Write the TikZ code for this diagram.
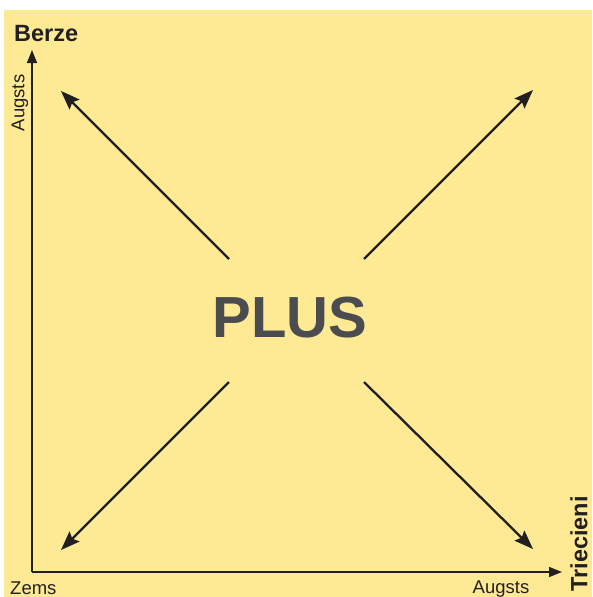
\documentclass[tikz,border=0pt]{standalone}
\usepackage{fontspec}
\setmainfont{Liberation Sans}
\usepackage{xcolor}
\definecolor{paper}{HTML}{FEEA94}
\definecolor{ink}{HTML}{231F20}
\definecolor{plusgray}{HTML}{4B4C50}
\usetikzlibrary{arrows.meta, positioning}

\begin{document}
\begin{tikzpicture}[
  x=1pt, y=-1pt,
  axis/.style={-{Triangle[length=13pt, width=10pt]}, line width=1.5pt, ink},
  arr/.style={-{Stealth[length=19pt, width=14pt, inset=3pt]}, line width=2.3pt, ink},
  lbl/.style={font=\fontsize{18.5}{22}\selectfont, text=ink, inner sep=0pt},
  ttl/.style={font=\fontsize{23.5}{28}\selectfont\bfseries, text=ink, inner sep=0pt}
]
\useasboundingbox (0,0) rectangle (592,597);
\fill[paper] (4,10) rectangle (592,597);

% axes
\coordinate (origin) at (32,572);
\coordinate (ytop) at (32,50);
\coordinate (xend) at (562,572);
\draw[axis] (origin) -- (ytop);
\draw[axis] (origin) -- (xend);

\node[ttl, anchor=base west] (berze) at (14,41) {Berze};
\node[lbl, rotate=90] (ylab) at (20,103) {Augsts};
\node[lbl, anchor=base west] (zems) at (10,594) {Zems};
\node[lbl, anchor=base] (xlab) at (501,593) {Augsts};
\node[ttl, rotate=90] (triecieni) at (579,544) {Triecieni};

% centre
\node[font=\fontsize{58}{66}\selectfont\bfseries, text=plusgray] (plus) at (290,318) {PLUS};

% diagonal arrows
\coordinate (ulin) at (229,259);
\coordinate (urin) at (364,259);
\coordinate (llin) at (229,382);
\coordinate (lrin) at (364,382);
\coordinate (ulout) at (61,91);
\coordinate (urout) at (533,90);
\coordinate (llout) at (61,550);
\coordinate (lrout) at (533,549);
\draw[arr] (ulin) -- (ulout);
\draw[arr] (urin) -- (urout);
\draw[arr] (llin) -- (llout);
\draw[arr] (lrin) -- (lrout);
\end{tikzpicture}
\end{document}
